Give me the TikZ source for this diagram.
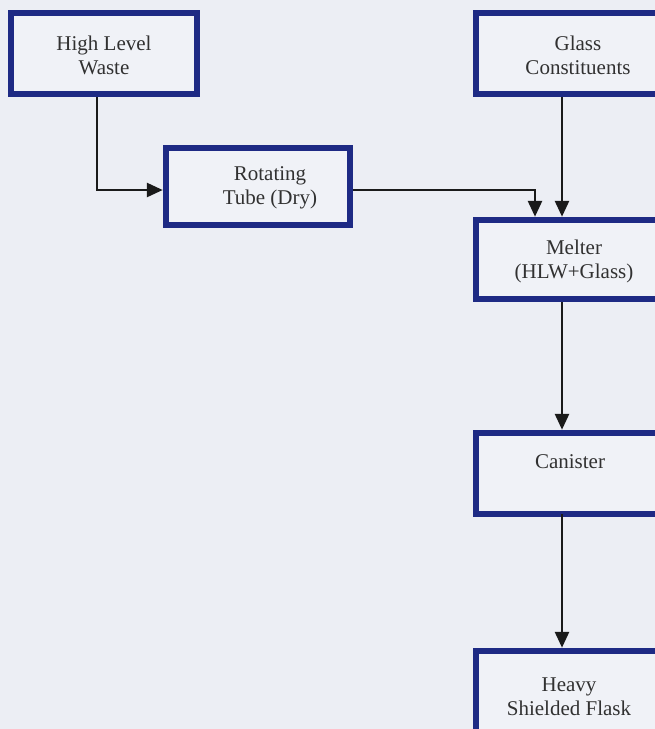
\documentclass[tikz,border=0pt]{standalone}
\usepackage{fontspec}
\setmainfont{Liberation Serif}
\usetikzlibrary{arrows.meta}
\definecolor{bg}{HTML}{ECEEF4}
\definecolor{boxfill}{HTML}{F0F2F7}
\definecolor{navy}{HTML}{1E2A84}
\definecolor{ink}{HTML}{1A1A1A}
\tikzset{
  box/.style={draw=navy, line width=6.5pt, fill=boxfill, rectangle, inner sep=0pt},
  lbl/.style={align=center, font=\fontsize{21}{24}\selectfont, text=ink!90!white, inner sep=0pt},
  flow/.style={draw=ink, line width=2.8pt, -{Triangle[width=14pt,length=16pt]}}
}
\begin{document}
\begin{tikzpicture}[x=1pt,y=-1pt]
\fill[bg] (0,0) rectangle (655,729);
\useasboundingbox (0,0) rectangle (655,729);
\clip (0,0) rectangle (655,729);
% boxes
\node[box, minimum width=186pt, minimum height=81pt] (hlw) at (104,53.5) {};
\node[lbl] (hlwt) at (104,55) {High Level\\Waste};
\node[box, minimum width=202pt, minimum height=81pt] (glass) at (577,53.5) {};
\node[lbl] (glasst) at (578,55) {Glass\\Constituents};
\node[box, minimum width=184pt, minimum height=77pt] (tube) at (258,186.5) {};
\node[lbl] (tubet) at (270,188) {Rotating\\Tube (Dry)};
\node[box, minimum width=202pt, minimum height=79pt] (melter) at (577,259.5) {};
\node[lbl] (meltert) at (574,261) {Melter\\(HLW+Glass)};
\node[box, minimum width=202pt, minimum height=81pt] (can) at (577,473.5) {};
\node[lbl] (cant) at (570,462) {Canister};
\node[box, minimum width=202pt, minimum height=81pt] (flask) at (577,691.5) {};
\node[lbl] (flaskt) at (569,697) {Heavy\\Shielded Flask};
% connector guides
\coordinate (c1) at (97,190);
\coordinate (c2) at (535,190);
\coordinate (ax) at (562,0);
% connectors
\draw[flow] (hlw.south -| c1) -- (c1) -- (tube.west |- c1);
\draw[flow] (tube.east |- c2) -- (c2) -- (melter.north -| c2);
\draw[flow] (glass.south -| ax) -- (melter.north -| ax);
\draw[flow] (melter.south -| ax) -- (can.north -| ax);
\draw[flow] ([yshift=3pt]can.south -| ax) -- (flask.north -| ax);
\end{tikzpicture}
\end{document}
